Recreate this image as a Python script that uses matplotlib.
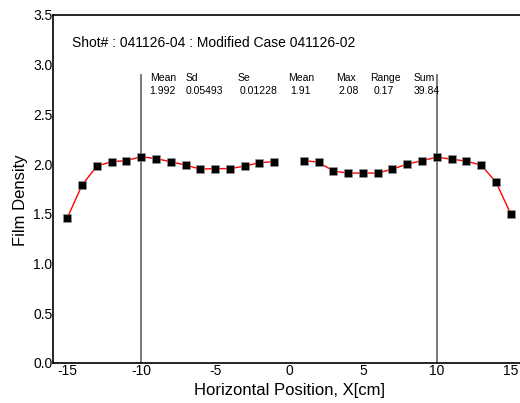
import numpy as np
import matplotlib
matplotlib.use("Agg")
from matplotlib import pyplot as plt

plt.rcParams['font.family'] = ['Liberation Sans', 'DejaVu Sans']
plt.rcParams['axes.unicode_minus'] = False

# film density profile, no reading at x = 0
pos = [-15, -14, -13, -12, -11, -10, -9, -8, -7, -6, -5, -4, -3, -2, -1, 0,
       1, 2, 3, 4, 5, 6, 7, 8, 9, 10, 11, 12, 13, 14, 15]
density = [1.46, 1.79, 1.98, 2.025, 2.035, 2.075, 2.055, 2.025, 1.99, 1.95,
           1.955, 1.955, 1.98, 2.015, 2.025, np.nan,
           2.035, 2.02, 1.93, 1.91, 1.91, 1.91, 1.95, 2.0, 2.035, 2.07,
           2.05, 2.03, 1.99, 1.82, 1.50]

marks = [-10, 10]
mark_top = 2.9

stat_names = ['Mean', 'Sd', 'Se', 'Mean', 'Max', 'Range', 'Sum']
stat_values = ['1.992', '0.05493', '0.01228', '1.91', '2.08', '0.17', '39.84']
name_x = [-9.43, -6.99, -3.48, -0.03, 3.22, 5.52, 8.43]
value_x = [-9.43, -6.99, -3.34, 0.11, 3.36, 5.72, 8.43]

title = 'Shot# : 041126-04 : Modified Case 041126-02'

fig = plt.figure(figsize=(5.2, 4.03), dpi=100)
ax = fig.add_axes([0.101, 0.0993, 0.9096, 0.8635])

for m in marks:
    ax.plot([m, m], [0, mark_top], color='#6e6e6e', lw=1.3, zorder=1)

ax.plot(pos, density, color='red', lw=1.0, marker='s', markersize=5.5,
        markerfacecolor='black', markeredgecolor='#999999',
        markeredgewidth=0.4, zorder=3)

ax.set_xlim(-16, 16)
ax.set_ylim(0, 3.5)
ax.set_xticks([-15, -10, -5, 0, 5, 10, 15])
ax.set_yticks(np.arange(0, 3.51, 0.5))
ax.set_yticklabels(['%.1f' % v for v in np.arange(0, 3.51, 0.5)])
ax.tick_params(length=0, labelsize=10)
ax.tick_params(axis='y', pad=0)
ax.tick_params(axis='x', pad=1)
for s in ax.spines.values():
    s.set_linewidth(1.2)

ax.set_xlabel('Horizontal Position, X[cm]', fontsize=12, labelpad=3)
ax.set_ylabel('Film Density', fontsize=12)
ax.yaxis.set_label_coords(-0.052, 0.468)

ax.text(-14.7, 3.22, title, fontsize=10, va='center', ha='left')
for n, x in zip(stat_names, name_x):
    ax.text(x, 2.87, n, fontsize=7.5, va='center', ha='left')
for v, x in zip(stat_values, value_x):
    ax.text(x, 2.74, v, fontsize=7.5, va='center', ha='left')

fig.savefig('out.png', dpi=100)
